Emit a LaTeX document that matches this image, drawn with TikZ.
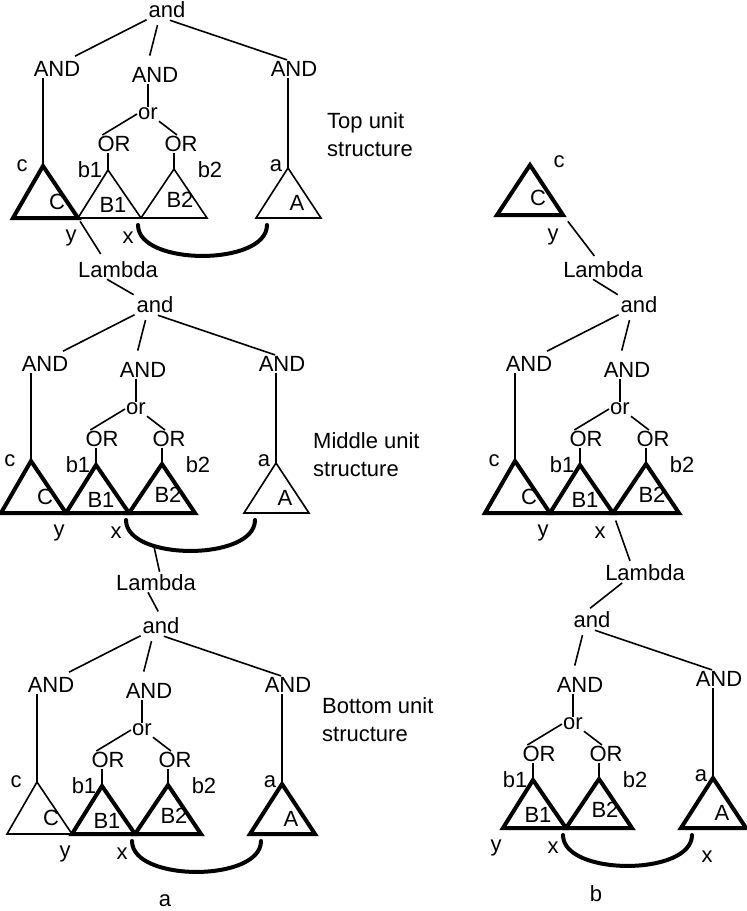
\documentclass[tikz,border=0pt]{standalone}
\usepackage{fontspec}
\setmainfont{Liberation Sans}
\usetikzlibrary{calc}

\tikzset{
  lbl/.style={font=\fontsize{22}{28}\selectfont, inner sep=1pt},
  link/.style={line width=1.6pt},
  thintri/.style={line width=1.6pt},
  boldtri/.style={line width=4pt},
  bridge/.style={line width=4pt, line cap=round}
}

% parts of one unit structure, in the coordinates of the top one
\newcommand{\unitand}[1]{%
  \node[lbl] (#1and) at (167,7) {and};}
\newcommand{\unitmid}[2]{%
  \node[lbl] (#1andm) at (155,72) {AND};
  \node[lbl] (#1or) at (148,111) {or};
  \node[lbl] (#1orl) at (114,141) {OR};
  \node[lbl] (#1orr) at (181,141) {OR};
  \coordinate (#1ypt) at (78,215);
  \coordinate (#1xpt) at (141,215);
  \coordinate (#1bapex) at (108,167);
  \coordinate (#1bbapex) at (174,166);
  \draw[#2] (#1bapex) -- (#1ypt) -- (#1xpt) -- cycle;
  \draw[#2] (#1bbapex) -- (#1xpt) -- (207,215) -- cycle;
  \draw[link, shorten <=6pt, shorten >=11pt] ([xshift=-8pt]#1and.south) -- ([xshift=-8pt]#1andm.north);
  \draw[link] (#1andm.south -| #1or) -- (#1or);
  \draw[link] (#1or.west) -- ([xshift=6pt]#1orl.north west);
  \draw[link] (#1or.south east) -- ([xshift=-4pt]#1orr.north);
  \draw[link] (#1orl.south -| #1bapex) -- (#1bapex);
  \draw[link] (#1orr.south -| #1bbapex) -- (#1bbapex);
  \node[lbl] (#1b1) at (90,167) {b1};
  \node[lbl] (#1b2) at (210,167) {b2};
  \node[lbl] (#1bb1) at (113,202) {B1};
  \node[lbl] (#1bb2) at (180,197) {B2};
  \node[lbl] (#1y) at (71,235) {y};
  \node[lbl] (#1x) at (128,235) {x};}
\newcommand{\unitleft}[2]{%
  \node[lbl] (#1andl) at (57,66) {AND};
  \coordinate (#1capex) at (43,163);
  \draw[#2] (#1capex) -- (13,215) -- (#1ypt) -- cycle;
  \draw[link, shorten <=1pt, shorten >=9pt] (#1and.south west) -- ([xshift=10pt]#1andl.north);
  \draw[link] (#1andl.south -| #1capex) -- (#1capex);
  \node[lbl] (#1c) at (22,163) {c};
  \node[lbl] (#1cc) at (57,199) {C};}
\newcommand{\unitright}[2]{%
  \node[lbl] (#1andr) at (294,66) {AND};
  \coordinate (#1aapex) at (288,165);
  \draw[#2] (#1aapex) -- (256,215) -- (321,215) -- cycle;
  \draw[link, shorten <=3pt, shorten >=1pt] (#1and.south) -- ([xshift=-6pt]#1andr.north);
  \draw[link] (#1andr.south -| #1aapex) -- (#1aapex);
  \node[lbl] (#1a) at (276,163) {a};
  \node[lbl] (#1aa) at (297,200) {A};}
\newcommand{\unitarc}[1]{%
  \coordinate (#1arcl) at (138,222);
  \coordinate (#1arcr) at (267,222);
  \draw[bridge] (#1arcl) to[out=-90, in=-90, looseness=0.82]
    node[coordinate, pos=0.3] (#1arcpt) {} (#1arcr);}

\begin{document}
\begin{tikzpicture}[x=1pt, y=-1pt]
\useasboundingbox (0,0) rectangle (747,911);

% a: top unit
\begin{scope}[shift={(0,3)}]
  \unitand{ta-}
  \unitmid{ta-}{thintri}
  \unitleft{ta-}{boldtri}
  \unitright{ta-}{thintri}
  \unitarc{ta-}
\end{scope}

% a: middle unit
\begin{scope}[shift={(-12,298)}]
  \unitand{ma-}
  \unitmid{ma-}{boldtri}
  \unitleft{ma-}{boldtri}
  \unitright{ma-}{thintri}
  \unitarc{ma-}
\end{scope}

% a: bottom unit
\begin{scope}[shift={(-6,619)}]
  \unitand{ba-}
  \unitmid{ba-}{boldtri}
  \unitleft{ba-}{thintri}
  \unitright{ba-}{boldtri}
  \unitarc{ba-}
\end{scope}

\node[lbl] (lamA) at (118,270) {Lambda};
\node[lbl] (lamB) at (156,583) {Lambda};
\draw[link, shorten <=4pt, shorten >=8pt] (ta-ypt) -- ([xshift=-13pt]lamA.north);
\draw[link, shorten >=2pt] ([xshift=-11pt]lamA.south) -- (ma-and.north west);
\draw[link, shorten >=2pt] (ma-arcpt) -- ([xshift=4pt]lamB.north);
\draw[link, shorten >=6pt] ([xshift=-8pt]lamB.south) -- (ba-and.north);

\node[lbl, align=left, anchor=west] (toplbl) at (326,135) {Top unit\\structure};
\node[lbl, align=left, anchor=west] (midlbl) at (312,455) {Middle unit\\structure};
\node[lbl, align=left, anchor=west] (botlbl) at (321,720) {Bottom unit\\structure};
\node[lbl] (capa) at (165,901) {a};

% b
\coordinate (cb-apex) at (530,165);
\coordinate (cb-r) at (563,215);
\draw[boldtri] (cb-apex) -- (497,215) -- (cb-r) -- cycle;
\node[lbl] (cb-c) at (559,162) {c};
\node[lbl] (cb-cc) at (538,198) {C};
\node[lbl] (cb-y) at (553,237) {y};

\begin{scope}[shift={(472,298)}]
  \unitand{mb-}
  \unitmid{mb-}{boldtri}
  \unitleft{mb-}{boldtri}
\end{scope}

\begin{scope}[shift={(425,613)}]
  \unitand{bb-}
  \unitmid{bb-}{boldtri}
  \unitright{bb-}{boldtri}
  \unitarc{bb-}
  \node[lbl] (bb-x2) at (282,244) {x};
\end{scope}

\node[lbl] (lamC) at (603,270) {Lambda};
\node[lbl] (lamD) at (645,573) {Lambda};
\draw[link, shorten <=8pt, shorten >=6pt] (cb-r) -- ([xshift=-5pt]lamC.north);
\draw[link, shorten >=2pt] ([xshift=-10pt]lamC.south) -- (mb-and.north west);
\draw[link, shorten <=8pt, shorten >=3pt] (mb-xpt) -- ([xshift=-14pt]lamD.north);
\draw[link, shorten <=1pt, shorten >=4pt] ([xshift=-22pt]lamD.south) -- ([xshift=-5pt]bb-and.north);
\node[lbl] (capb) at (596,894) {b};
\end{tikzpicture}
\end{document}
